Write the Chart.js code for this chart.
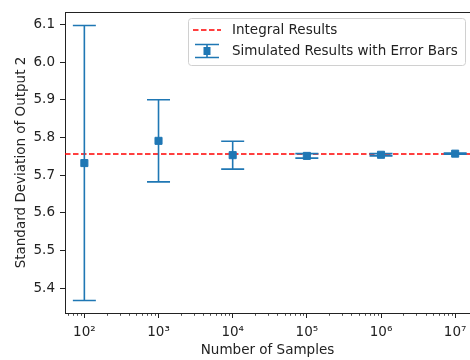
<!DOCTYPE html>
<html>
<head>
<meta charset="utf-8">
<script src="https://cdn.jsdelivr.net/npm/chart.js@4.4.0/dist/chart.umd.min.js"></script>
<style>
html, body { margin: 0; padding: 0; background: #fff; }
</style>
</head>
<body>
<canvas id="chart" width="470" height="360"></canvas>
<script>
// Datos
const sampleSizes = [1e2, 1e3, 1e4, 1e5, 1e6, 1e7];
const simulatedMeans = [5.732, 5.791, 5.753, 5.751, 5.754, 5.757];
const errorSizes = [0.365, 0.109, 0.037, 0.006, 0.003, 0.0015];
const integralResult = 5.756;
const yTickValues = [5.4, 5.5, 5.6, 5.7, 5.8, 5.9, 6.0, 6.1];
const xTickLabels = ['10²', '10³', '10⁴', '10⁵', '10⁶', '10⁷'];
const seriesLabels = ['Integral Results', 'Simulated Results with Error Bars'];

const X_MIN = Math.pow(10, 1.739);
const X_MAX = Math.pow(10, 7.2);
const Y_MIN = 5.334;
const Y_MAX = 6.133;

const BLUE = '#1f77b4';
const RED = '#ff0000';
const CAP = 11.5;
const FONT = 'DejaVu Sans';

Chart.defaults.font.family = FONT;
Chart.defaults.font.size = 13.5;
Chart.defaults.color = '#222';

// Barras de error (despues de la linea roja, antes de los marcadores)
const errorBarPlugin = {
    id: 'errorBars',
    afterDatasetDraw(chart, args) {
        if (args.index !== 0) return;
        const xs = chart.scales.x, ys = chart.scales.y, ctx = chart.ctx;
        ctx.save();
        ctx.strokeStyle = BLUE;
        ctx.lineWidth = 1.6;
        sampleSizes.forEach((n, i) => {
            const px = xs.getPixelForValue(n);
            const top = ys.getPixelForValue(simulatedMeans[i] + errorSizes[i]);
            const bot = ys.getPixelForValue(simulatedMeans[i] - errorSizes[i]);
            ctx.beginPath();
            ctx.moveTo(px, top); ctx.lineTo(px, bot);
            ctx.moveTo(px - CAP, top); ctx.lineTo(px + CAP, top);
            ctx.moveTo(px - CAP, bot); ctx.lineTo(px + CAP, bot);
            ctx.stroke();
        });
        ctx.restore();
    }
};

// Marco superior, ticks menores y leyenda
const framePlugin = {
    id: 'frame',
    afterDraw(chart) {
        const ctx = chart.ctx, area = chart.chartArea, xs = chart.scales.x;
        ctx.save();
        ctx.strokeStyle = '#222';
        ctx.lineWidth = 1;
        ctx.beginPath();
        ctx.moveTo(area.left, area.top + 0.5);
        ctx.lineTo(area.right, area.top + 0.5);
        ctx.stroke();

        // ticks menores del eje log
        ctx.lineWidth = 0.8;
        ctx.beginPath();
        for (let e = 1; e <= 7; e++) {
            for (let k = 2; k <= 9; k++) {
                const v = k * Math.pow(10, e);
                if (v < X_MIN || v > X_MAX) continue;
                const px = Math.round(xs.getPixelForValue(v)) + 0.5;
                ctx.moveTo(px, area.bottom);
                ctx.lineTo(px, area.bottom + 2.8);
            }
        }
        ctx.stroke();

        // leyenda
        const lx = 188, ly = 18, lw = 277, lh = 47, r = 3;
        ctx.fillStyle = 'rgba(255,255,255,0.8)';
        ctx.strokeStyle = '#d0d0d0';
        ctx.lineWidth = 1;
        ctx.beginPath();
        ctx.roundRect(lx + 0.5, ly + 0.5, lw, lh, r);
        ctx.fill();
        ctx.stroke();

        const y1 = 30, y2 = 51;
        ctx.strokeStyle = RED;
        ctx.lineWidth = 1.6;
        ctx.setLineDash([5.5, 2.5]);
        ctx.beginPath();
        ctx.moveTo(193, y1);
        ctx.lineTo(221, y1);
        ctx.stroke();
        ctx.setLineDash([]);

        const hx = 207;
        ctx.strokeStyle = BLUE;
        ctx.beginPath();
        ctx.moveTo(hx, y2 - 6.5); ctx.lineTo(hx, y2 + 6.5);
        ctx.moveTo(hx - 12, y2 - 6.5); ctx.lineTo(hx + 12, y2 - 6.5);
        ctx.moveTo(hx - 12, y2 + 6.5); ctx.lineTo(hx + 12, y2 + 6.5);
        ctx.stroke();
        ctx.fillStyle = BLUE;
        ctx.fillRect(hx - 3.5, y2 - 4, 7, 8);

        ctx.fillStyle = '#222';
        ctx.font = '13.5px "' + FONT + '"';
        ctx.textBaseline = 'middle';
        ctx.textAlign = 'left';
        ctx.fillText(seriesLabels[0], 232, y1);
        ctx.fillText(seriesLabels[1], 232, y2);
        ctx.restore();
    }
};

const ctx = document.getElementById('chart').getContext('2d');

const myChart = new Chart(ctx, {
    data: {
        datasets: [
            {
                type: 'line',
                label: seriesLabels[0],
                data: [{ x: X_MIN, y: integralResult }, { x: X_MAX, y: integralResult }],
                borderColor: RED,
                borderWidth: 1.6,
                borderDash: [5.5, 2.5],
                pointRadius: 0,
                order: 1
            },
            {
                type: 'scatter',
                label: seriesLabels[1],
                data: sampleSizes.map((n, i) => ({ x: n, y: simulatedMeans[i] })),
                backgroundColor: BLUE,
                borderColor: BLUE,
                borderWidth: 1,
                pointStyle: 'rect',
                pointRadius: 5,
                pointHoverRadius: 5,
                order: 0
            }
        ]
    },
    options: {
        responsive: false,
        animation: false,
        events: [],
        layout: { autoPadding: false, padding: { top: 12, right: 0, left: 0, bottom: 0 } },
        plugins: {
            legend: { display: false },
            tooltip: { enabled: false }
        },
        scales: {
            x: {
                type: 'logarithmic',
                min: X_MIN,
                max: X_MAX,
                afterBuildTicks: (scale) => {
                    scale.ticks = sampleSizes.map(v => ({ value: v, major: true }));
                },
                afterFit: (scale) => {
                    scale.height = 47;
                    scale.paddingLeft = 0;
                    scale.paddingRight = 0;
                },
                ticks: {
                    autoSkip: false,
                    maxRotation: 0,
                    padding: 6,
                    color: '#222',
                    callback: (v, i) => xTickLabels[i]
                },
                grid: {
                    drawOnChartArea: false,
                    tickLength: 5,
                    tickColor: '#222'
                },
                border: { color: '#222', width: 1 },
                title: {
                    display: true,
                    text: 'Number of Samples',
                    color: '#222',
                    padding: { top: 0, bottom: 1 }
                }
            },
            y: {
                type: 'linear',
                min: Y_MIN,
                max: Y_MAX,
                afterBuildTicks: (scale) => {
                    scale.ticks = yTickValues.map(v => ({ value: v }));
                },
                afterFit: (scale) => {
                    scale.width = 65;
                    scale.paddingTop = 0;
                    scale.paddingBottom = 0;
                },
                ticks: {
                    padding: 5,
                    color: '#222',
                    callback: (v) => Number(v).toFixed(1)
                },
                grid: {
                    drawOnChartArea: false,
                    tickLength: 5,
                    tickColor: '#222'
                },
                border: { color: '#222', width: 1 },
                title: {
                    display: true,
                    text: 'Standard Deviation of Output 2',
                    color: '#222',
                    padding: { top: 13, bottom: 0 }
                }
            }
        }
    },
    plugins: [errorBarPlugin, framePlugin]
});
</script>
</body>
</html>
